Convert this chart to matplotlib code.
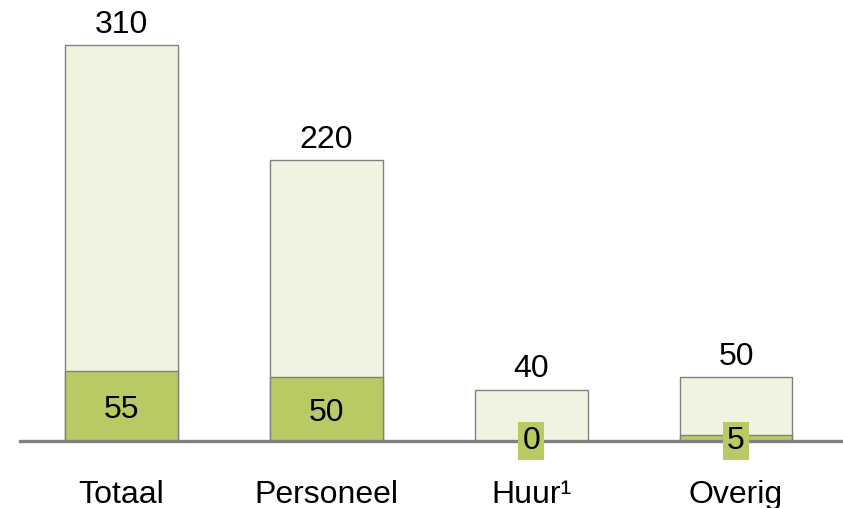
import matplotlib
matplotlib.use("Agg")
import matplotlib.pyplot as plt

# ─── data ─────────────────────────────────────────────────────────────────────
categories = ["Totaal", "Personeel", "Huur\u00b9", "Overig"]
totals = [310, 220, 40, 50]
parts = [55, 50, 0, 5]

# ─── style ────────────────────────────────────────────────────────────────────
LIGHT = "#F0F3E0"
GREEN = "#BBC964"
EDGE = "#808080"
FONT = ["Liberation Sans", "DejaVu Sans"]
FS = 23

plt.rcParams["font.family"] = FONT

fig = plt.figure(figsize=(8.43, 5.08), dpi=100)
# axes: x from 20 px to right edge, y from baseline (441 px) to the top
ax = fig.add_axes([20 / 843, (508 - 441) / 508, 1 - 20 / 843, 441 / 508])

x = list(range(len(categories)))
width = 0.551

ax.bar(x, totals, width=width, color=LIGHT, edgecolor=EDGE, linewidth=1.0, zorder=2)
ax.bar(x, parts, width=width, color=GREEN, edgecolor=EDGE, linewidth=1.0, zorder=3)

# totals above bars
for xi, t in zip(x, totals):
    ax.annotate(str(t), (xi, t), xytext=(0, 4), textcoords="offset points",
                ha="center", va="bottom", fontsize=FS, color="black")

# part values: inside the green bar, or boxed on the baseline when too small
for xi, p in zip(x, parts):
    if p >= 20:
        ax.annotate(str(p), (xi, p / 2), xytext=(0, -3), textcoords="offset points",
                    ha="center", va="center", fontsize=FS, color="black", zorder=5)
    else:
        ax.text(xi, 0, str(p), ha="center", va="center", fontsize=FS,
                color="black", zorder=6,
                bbox=dict(boxstyle="square,pad=0.12", facecolor=GREEN,
                          edgecolor="none"))

# category labels below the baseline
for xi, c in zip(x, categories):
    ax.annotate(c, (xi, 0), xytext=(0, -39), textcoords="offset points",
                ha="center", va="center", fontsize=FS, color="black",
                annotation_clip=False)

ax.axhline(0, color=EDGE, linewidth=2.4, zorder=4, clip_on=False)

ax.set_xlim(-0.495, 3.522)
ax.set_ylim(0, 441 / 1.277)
ax.axis("off")

fig.savefig("out.png", dpi=100)
